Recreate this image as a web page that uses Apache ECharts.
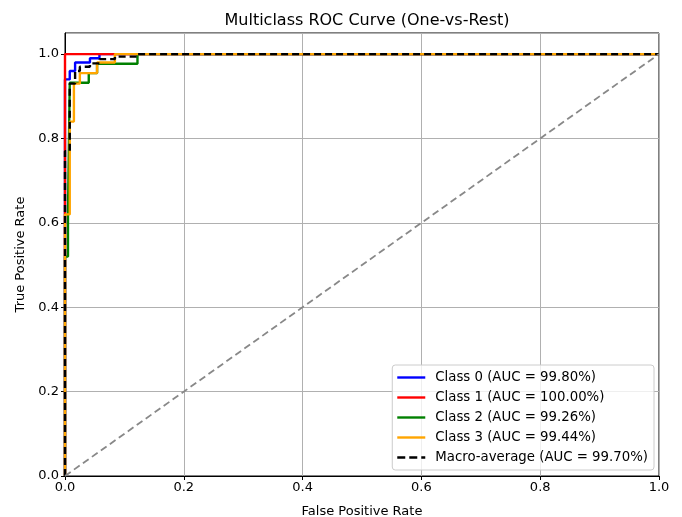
<!DOCTYPE html>
<html>
<head>
<meta charset="utf-8">
<script src="https://cdn.jsdelivr.net/npm/echarts@6/dist/echarts.min.js"></script>
<style>
html,body{margin:0;padding:0;background:#fff;}
#chart{width:682px;height:517px;}
</style>
</head>
<body>
<div id="chart"></div>
<script>
// ---- Data ----
const classNames = ['Class 0 (AUC = 99.80%)', 'Class 1 (AUC = 100.00%)', 'Class 2 (AUC = 99.26%)', 'Class 3 (AUC = 99.44%)'];
const macroName = 'Macro-average (AUC = 99.70%)';

const fpr0 = [0, 0, 0.008, 0.008, 0.017, 0.017, 0.042, 0.042, 0.058, 0.058, 1];
const tpr0 = [0, 0.94, 0.94, 0.96, 0.96, 0.98, 0.98, 0.99, 0.99, 1, 1];

const fpr1 = [0, 0, 1];
const tpr1 = [0, 1, 1];

const fpr2 = [0, 0, 0.005, 0.005, 0.008, 0.008, 0.04, 0.04, 0.054, 0.054, 0.122, 0.122, 1];
const tpr2 = [0, 0.52, 0.52, 0.62, 0.62, 0.932, 0.932, 0.955, 0.955, 0.977, 0.977, 1, 1];

const fpr3 = [0, 0, 0.008, 0.008, 0.015, 0.015, 0.025, 0.025, 0.054, 0.054, 0.084, 0.084, 1];
const tpr3 = [0, 0.62, 0.62, 0.84, 0.84, 0.93, 0.93, 0.955, 0.955, 0.98, 0.98, 1, 1];

const fprMacro = [0, 0, 0.008, 0.008, 0.017, 0.017, 0.025, 0.025, 0.042, 0.042, 0.058, 0.058, 0.084, 0.084, 0.122, 0.122, 1];
const tprMacro = [0, 0.77, 0.77, 0.93, 0.93, 0.96, 0.96, 0.97, 0.97, 0.978, 0.978, 0.988, 0.988, 0.994, 0.994, 1, 1];

const diagX = [0, 1];
const diagY = [0, 1];

const xTicks = [0, 0.2, 0.4, 0.6, 0.8, 1.0];
const yTicks = [0, 0.2, 0.4, 0.6, 0.8, 1.0];

const colors = ['#0000ff', '#ff0000', '#008000', '#ffa500'];

function pairs(xs, ys) { return xs.map((x, i) => [x, ys[i]]); }

const curves = [[fpr0, tpr0], [fpr1, tpr1], [fpr2, tpr2], [fpr3, tpr3]];

const FONT = 'DejaVu Sans';
const SOLID_ICON = 'path://M0,0 L28,0 L28,2.4 L0,2.4 Z';
const DASH_ICON = 'path://M0,0 L8,0 L8,2.4 L0,2.4 Z M12,0 L20,0 L20,2.4 L12,2.4 Z M24,0 L28,0 L28,2.4 L24,2.4 Z';

const series = curves.map((c, i) => ({
  name: classNames[i],
  type: 'line',
  data: pairs(c[0], c[1]),
  showSymbol: false,
  symbol: 'none',
  lineStyle: { color: colors[i], width: 2.4 },
  itemStyle: { color: colors[i] },
  z: 2 + i,
  animation: false
}));
series.push({
  name: macroName,
  type: 'line',
  data: pairs(fprMacro, tprMacro),
  showSymbol: false,
  symbol: 'none',
  lineStyle: { color: '#000', width: 2.4, type: [7, 4] },
  itemStyle: { color: '#000' },
  z: 8,
  animation: false
});
series.push({
  name: 'diag',
  type: 'line',
  data: pairs(diagX, diagY),
  showSymbol: false,
  symbol: 'none',
  lineStyle: { color: '#888888', width: 1.8, type: [7, 4] },
  z: 9,
  animation: false
});

const legendData = classNames.map(n => ({ name: n, icon: SOLID_ICON }))
  .concat([{ name: macroName, icon: DASH_ICON }]);

const chart = echarts.init(document.getElementById('chart'), null, { renderer: 'canvas' });
chart.setOption({
  animation: false,
  backgroundColor: '#fff',
  title: {
    text: 'Multiclass ROC Curve (One-vs-Rest)',
    left: 362, top: 8, textAlign: 'center',
    textStyle: { fontFamily: FONT, fontSize: 16, fontWeight: 'normal', color: '#000' }
  },
  grid: { left: 65, right: 23, top: 33, bottom: 41, show: true, borderColor: '#000', borderWidth: 1,
    backgroundColor: 'transparent', containLabel: false, outerBoundsMode: 'none' },
  legend: {
    data: legendData,
    orient: 'vertical',
    right: 28, top: 365,
    padding: [5, 6, 5, 5],
    itemGap: 5,
    itemWidth: 28, itemHeight: 2.4,
    backgroundColor: 'rgba(255,255,255,0.8)',
    borderColor: '#cccccc', borderWidth: 1, borderRadius: 3,
    textStyle: { fontFamily: FONT, fontSize: 13.3, color: '#000', padding: [0, 0, 0, 5], lineHeight: 15 }
  },
  xAxis: {
    type: 'value', min: 0, max: 1, interval: 0.2,
    name: 'False Positive Rate', nameLocation: 'middle', nameGap: 29,
    nameTextStyle: { fontFamily: FONT, fontSize: 13, color: '#000' },
    axisLine: { show: true, onZero: false, lineStyle: { color: '#000', width: 1 } },
    axisTick: { show: true, inside: false, length: 4, lineStyle: { color: '#000' } },
    axisLabel: { fontFamily: FONT, fontSize: 13, color: '#000', margin: 5,
      formatter: v => xTicks.some(t => Math.abs(t - v) < 1e-9) ? v.toFixed(1) : '' },
    splitLine: { show: true, lineStyle: { color: '#b0b0b0', width: 1 } }
  },
  yAxis: {
    type: 'value', min: 0, max: 1.05, interval: 0.2,
    name: 'True Positive Rate', nameLocation: 'middle', nameGap: 38, nameRotate: 90,
    nameTextStyle: { fontFamily: FONT, fontSize: 13, color: '#000' },
    axisLine: { show: true, onZero: false, lineStyle: { color: '#000', width: 1 } },
    axisTick: { show: true, inside: false, length: 4, lineStyle: { color: '#000' } },
    axisLabel: { fontFamily: FONT, fontSize: 13, color: '#000', margin: 6, showMaxLabel: false,
      formatter: v => yTicks.some(t => Math.abs(t - v) < 1e-9) ? v.toFixed(1) : '' },
    splitLine: { show: true, lineStyle: { color: '#b0b0b0', width: 1 } }
  },
  series: series
});
</script>
</body>
</html>
